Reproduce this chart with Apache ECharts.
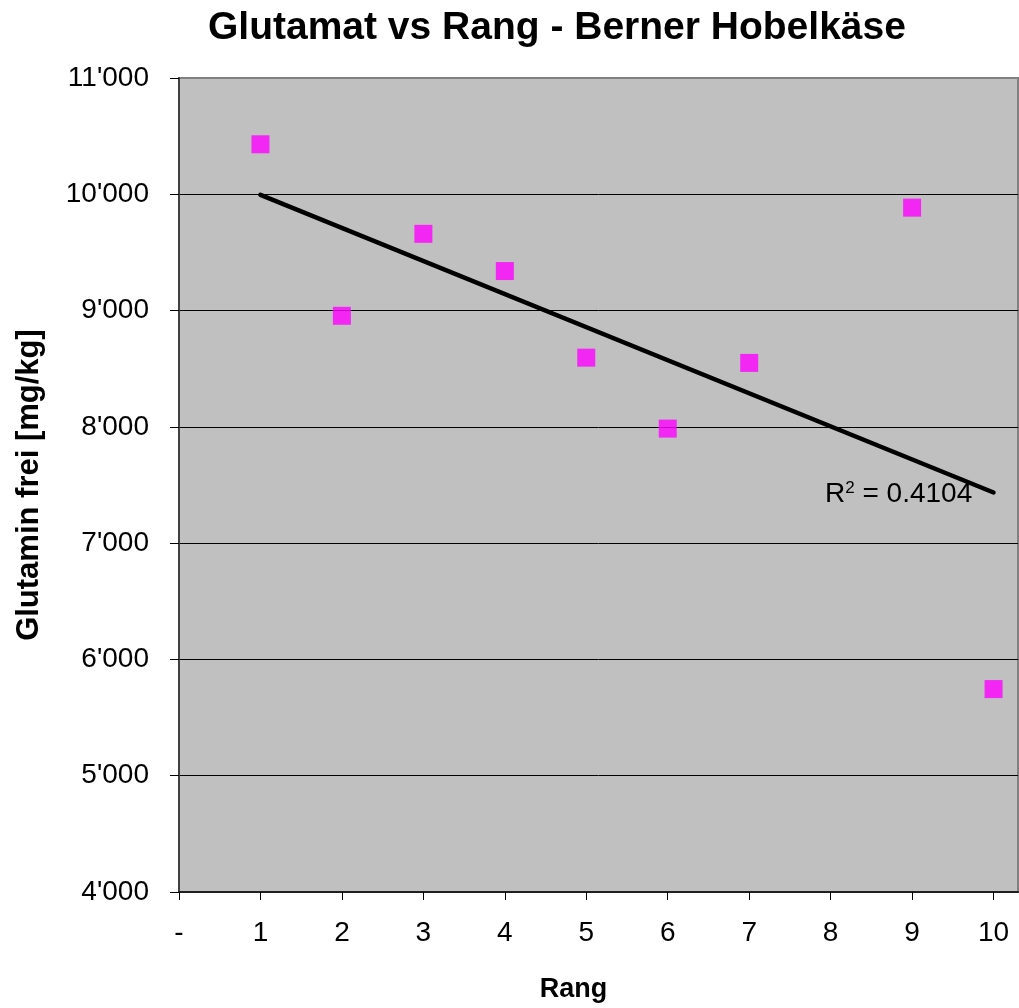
<!DOCTYPE html>
<html>
<head>
<meta charset="utf-8">
<script src="https://cdn.jsdelivr.net/npm/echarts@6/dist/echarts.min.js"></script>
<style>
  html, body { margin: 0; padding: 0; background: #fff; }
  #main { width: 1019px; height: 1008px; }
</style>
</head>
<body>
<div id="main"></div>
<script>
// Rang vs freies Glutamin (Berner Hobelkäse)
var rang = [1, 2, 3, 4, 5, 6, 7, 9, 10];
var glutamin = [10430, 8955, 9660, 9340, 8595, 7985, 8550, 9885, 5745];
var yTicks = [4000, 5000, 6000, 7000, 8000, 9000, 10000, 11000];
var r2Text = '0.4104';

(function(){
    var font = 'Liberation Sans, Arial, sans-serif';

    // lineare Trendlinie (kleinste Quadrate) aus den Punkten
    var n = rang.length, sx = 0, sy = 0, sxx = 0, sxy = 0;
    for (var i = 0; i < n; i++) {
        sx += rang[i]; sy += glutamin[i];
        sxx += rang[i] * rang[i]; sxy += rang[i] * glutamin[i];
    }
    var slope = (n * sxy - sx * sy) / (n * sxx - sx * sx);
    var icpt = (sy - slope * sx) / n;
    var xa = Math.min.apply(null, rang), xb = Math.max.apply(null, rang);
    var trend = [[xa, icpt + slope * xa], [xb, icpt + slope * xb]];

    var points = [];
    for (var j = 0; j < n; j++) points.push([rang[j], glutamin[j]]);

    var option = {
        backgroundColor: '#ffffff',
        animation: false,
        title: {
            text: 'Glutamat vs Rang - Berner Hobelkäse',
            left: 203,
            top: 4,
            textStyle: { fontFamily: font, fontWeight: 'bold', fontSize: 39, color: '#000' }
        },
        grid: {
            left: 179, right: 1, top: 78, bottom: 115,
            show: true,
            backgroundColor: '#C0C0C0',
            borderColor: '#808080',
            borderWidth: 2
        },
        xAxis: {
            type: 'value',
            min: 0, max: 10.3, interval: 1,
            name: 'Rang',
            nameLocation: 'middle',
            nameGap: 84,
            nameTextStyle: { fontFamily: font, fontWeight: 'bold', fontSize: 27, color: '#000', padding: [0, 50, 0, 0] },
            axisLine: { lineStyle: { color: '#202020', width: 2 } },
            axisTick: { show: true, inside: false, length: 8, lineStyle: { color: '#000', width: 1 } },
            axisLabel: {
                margin: 27,
                fontFamily: font, fontSize: 28, color: '#000',
                showMaxLabel: false,
                formatter: function (v) {
                    if (v === 0) return '-';
                    return Math.abs(v - Math.round(v)) < 1e-6 ? String(Math.round(v)) : '';
                }
            },
            splitLine: { show: false }
        },
        yAxis: {
            type: 'value',
            min: yTicks[0], max: yTicks[yTicks.length - 1], interval: 1000,
            name: 'Glutamin frei [mg/kg]',
            nameLocation: 'middle',
            nameGap: 134,
            nameTextStyle: { fontFamily: font, fontWeight: 'bold', fontSize: 31, color: '#000' },
            axisLine: { show: true, lineStyle: { color: '#404040', width: 2 } },
            axisTick: { show: true, inside: false, length: 9, lineStyle: { color: '#000', width: 1 } },
            axisLabel: {
                margin: 30,
                fontFamily: font, fontSize: 28, color: '#000',
                formatter: function (v) { return (v / 1000) + "'000"; }
            },
            splitLine: { show: true, showMinLine: false, showMaxLine: false, lineStyle: { color: '#000', width: 1 } }
        },
        series: [
            {
                type: 'line',
                data: trend,
                symbol: 'none',
                lineStyle: { color: '#000', width: 4.5, cap: 'round' },
                z: 3,
                silent: true
            },
            {
                type: 'scatter',
                data: points,
                symbol: 'rect',
                symbolSize: 18,
                itemStyle: { color: '#FF00FF' },
                z: 4
            }
        ],
        graphic: [
            {
                type: 'text',
                left: 825,
                top: 480,
                z: 10,
                style: {
                    text: 'R{sup|2} = ' + r2Text,
                    font: '28px ' + font,
                    fill: '#000',
                    rich: {
                        sup: { fontSize: 17, fontFamily: font, verticalAlign: 'top', padding: [0, 0, 10, 0], fill: '#000' }
                    }
                }
            }
        ]
    };

    var myChart = echarts.init(document.getElementById('main'), null, { renderer: 'canvas' });
    myChart.setOption(option);
})();
</script>
</body>
</html>
